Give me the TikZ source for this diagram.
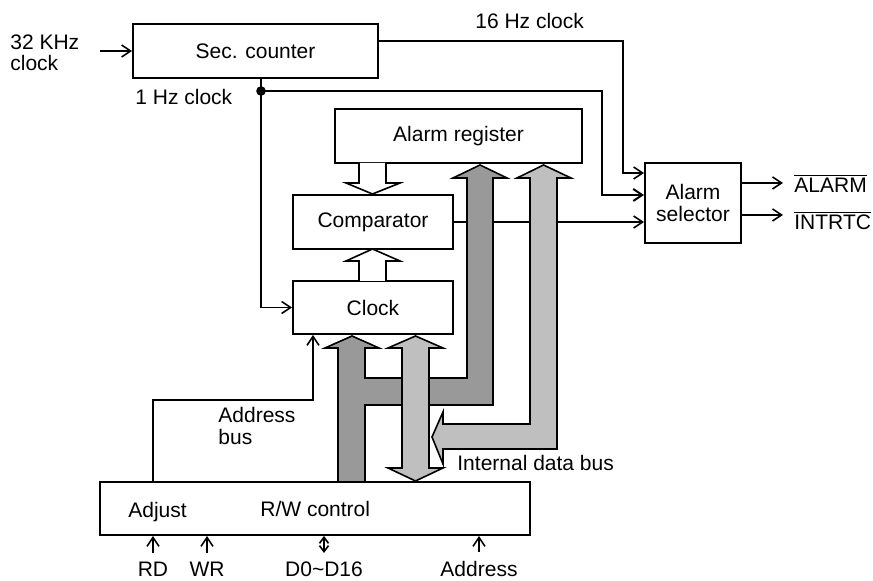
\documentclass[tikz,border=0pt]{standalone}
\usepackage{fontspec}
\setmainfont{Liberation Sans}
\usetikzlibrary{arrows.meta}
\definecolor{dgray}{gray}{0.6}
\definecolor{lgray}{gray}{0.75}
\begin{document}
\begin{tikzpicture}[x=0.5pt,y=-0.5pt,
  font=\fontsize{10.5}{10.75}\selectfont,
  box/.style={draw,line width=0.95pt,fill=white,inner sep=0pt,align=center},
  lbl/.style={inner sep=0pt,anchor=base west},
  blbl/.style={inner sep=4.5pt,anchor=base},
  arr/.style={line width=0.8pt,-{Straight Barb[length=4.5pt,width=6pt]}},
  darr/.style={line width=0.8pt,{Straight Barb[length=3pt,width=4.5pt]}-{Straight Barb[length=3pt,width=4.5pt]}},
  hollow/.style={line width=0.8pt,fill=white,line join=miter},
  bus/.style={line width=0.8pt,draw=black,line join=miter}]
\useasboundingbox (0,0) rectangle (873,581);

% boxes
\node[box,minimum width=122.5pt,minimum height=27pt] (sec) at (255.5,51) {Sec. counter};
\node[box,minimum width=123.5pt,minimum height=27pt] (areg) at (458.5,136) {Alarm register};
\node[box,minimum width=80pt,minimum height=27pt] (comp) at (373,222) {Comparator};
\node[box,minimum width=80pt,minimum height=26.5pt] (clock) at (373,307.5) {Clock};
\node[box,minimum width=48pt,minimum height=40pt] (sel) at (693,203) {Alarm\\selector};
\node[box,minimum width=215pt,minimum height=26.5pt] (rw) at (315,508.5) {};

% texts
\node[lbl] (adj) at (128,518) {Adjust};
\node[lbl] (rwt) at (260,517) {R/W control};
\node[anchor=west,align=left,inner sep=0pt] (in) at (10,53) {32 KHz\\clock};
\node[lbl] (hz1) at (135,105) {1 Hz clock};
\node[lbl] (hz16) at (475,29) {16 Hz clock};
\node[anchor=west,align=left,inner sep=0pt] (abt) at (218,426) {Address\\bus};
\node[lbl] (idb) at (457,471) {Internal data bus};
\node[lbl] (alo) at (794,193) {$\overline{\mbox{ALARM}}$};
\node[lbl] (into) at (794,230) {$\overline{\mbox{INTRTC}}$};
\node[blbl] (rd) at (153,577) {RD};
\node[blbl] (wr) at (207,577) {WR};
\node[blbl] (dd) at (324,577) {D0\textasciitilde D16};
\node[blbl] (ad) at (479,577) {Address};

% connectors
\coordinate (c32) at (100,51);
\draw[arr] (c32) -- (sec.west);
\coordinate (k16) at (623,173);
\draw[arr] ([yshift=5pt]sec.east) -| (k16) -- (k16 -| sel.west);
\coordinate (dot) at (261,91);
\coordinate (k1) at (602,195);
\draw[arr] (sec.south -| dot) |- (clock.west);
\draw[arr,line width=1pt] (dot) -| (k1) -- (k1 -| sel.west);
\fill (dot) circle (2.4pt);
\draw[arr] (comp.east) -- (comp.east -| sel.west);
\coordinate (oa) at (783,183);
\coordinate (oi) at (783,215);
\draw[arr] (oa -| sel.east) -- (oa);
\draw[arr] (oi -| sel.east) -- (oi);
\coordinate (ab) at (313,400);
\draw[arr] (rd |- rw.north) |- (ab) -- (ab |- clock.south);
\draw[arr] (rd.north) -- (rd.north |- rw.south);
\draw[arr] (wr.north) -- (wr.north |- rw.south);
\draw[darr] (dd.north) -- (dd.north |- rw.south);
\draw[arr] (ad.north) -- (ad.north |- rw.south);

% hollow arrows
\draw[hollow] (359,163) -- (359,183) -- (346,183) -- (372.5,194) -- (400,183) -- (386,183) -- (386,163);
\draw[hollow] (359,281) -- (359,261) -- (346,261) -- (372.5,249) -- (400,261) -- (386,261) -- (386,281);

% dark gray bus
\filldraw[bus,fill=dgray] (338,482) -- (338,348) -- (325,348) -- (352,336) -- (379,348) -- (365,348)
  -- (365,378) -- (467,378) -- (467,178) -- (453,178) -- (480,165) -- (507,178) -- (493,178)
  -- (493,405) -- (365,405) -- (365,482) -- cycle;
% light gray bus (right, with left head)
\filldraw[bus,fill=lgray] (530,178) -- (517,178) -- (543.5,165) -- (571,178) -- (557,178)
  -- (557,449) -- (443,449) -- (443,464) -- (432,437) -- (443,412) -- (443,424) -- (530,424) -- cycle;
% light gray double arrow
\filldraw[bus,fill=lgray] (402,348) -- (388,348) -- (415.5,336) -- (443,348) -- (429,348)
  -- (429,468) -- (443,468) -- (415.5,481) -- (388,468) -- (402,468) -- cycle;
\end{tikzpicture}
\end{document}
